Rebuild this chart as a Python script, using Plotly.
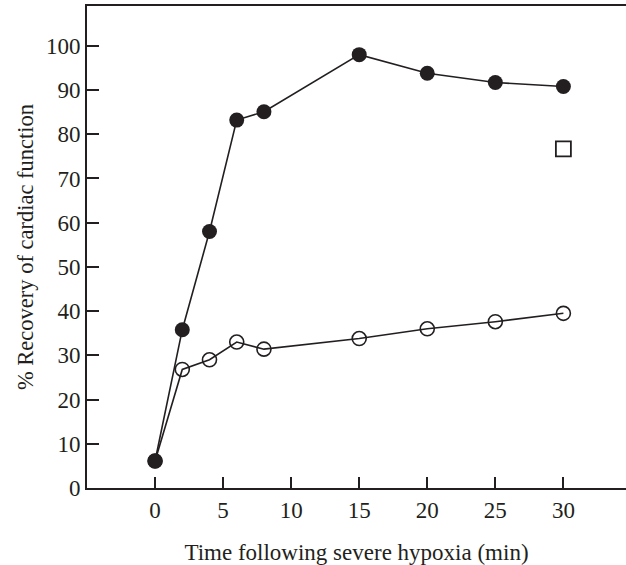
import plotly.graph_objects as go

time_filled = [0, 2, 4, 6, 8, 15, 20, 25, 30]
recovery_filled = [6.1, 35.8, 58.0, 83.2, 85.1, 98.0, 93.8, 91.7, 90.8]

time_open = [0, 2, 4, 6, 8, 15, 20, 25, 30]
recovery_open = [6.1, 26.8, 29.0, 33.0, 31.4, 33.8, 36.0, 37.6, 39.5]

time_square = [30]
recovery_square = [76.7]

x_ticks = [0, 5, 10, 15, 20, 25, 30]
y_ticks = [0, 10, 20, 30, 40, 50, 60, 70, 80, 90, 100]

ink = "#231f20"
font = "Liberation Serif"

fig = go.Figure()
fig.add_trace(go.Scatter(
    x=time_open, y=recovery_open, mode="lines+markers",
    line=dict(color=ink, width=1.6),
    marker=dict(symbol="circle-open", size=14, color=ink, line=dict(width=1.6)),
    showlegend=False))
fig.add_trace(go.Scatter(
    x=time_filled, y=recovery_filled, mode="lines+markers",
    line=dict(color=ink, width=1.6),
    marker=dict(symbol="circle", size=15, color=ink),
    showlegend=False))
fig.add_trace(go.Scatter(
    x=time_square, y=recovery_square, mode="markers",
    marker=dict(symbol="square-open", size=15, color=ink, line=dict(width=1.8)),
    showlegend=False))

fig.update_layout(
    width=626, height=565,
    margin=dict(l=87, r=0, t=6, b=77),
    paper_bgcolor="white", plot_bgcolor="white",
    font=dict(family=font, size=23, color=ink),
    xaxis=dict(
        range=[-5, 34.6], tickvals=x_ticks, ticks="inside", ticklen=11,
        tickwidth=1.8, tickcolor=ink, showline=True, linecolor=ink, linewidth=1.8,
        mirror=True, showgrid=False, zeroline=False, automargin=False,
        title=dict(text="Time following severe hypoxia (min)", font=dict(size=23), standoff=26),
        tickfont=dict(size=23),
    ),
    yaxis=dict(
        range=[0, 109], tickvals=y_ticks, ticks="inside", ticklen=12,
        tickwidth=1.8, tickcolor=ink, showline=True, linecolor=ink, linewidth=1.8,
        showgrid=False, zeroline=False, automargin=False,
        title=dict(text="% Recovery of cardiac function", font=dict(size=22.5), standoff=6),
        tickfont=dict(size=23),
    ),
)

fig.write_html(
    "out.html",
    config={"displayModeBar": False},
    post_script="document.body.style.margin='0';document.body.style.overflow='hidden';",
)
